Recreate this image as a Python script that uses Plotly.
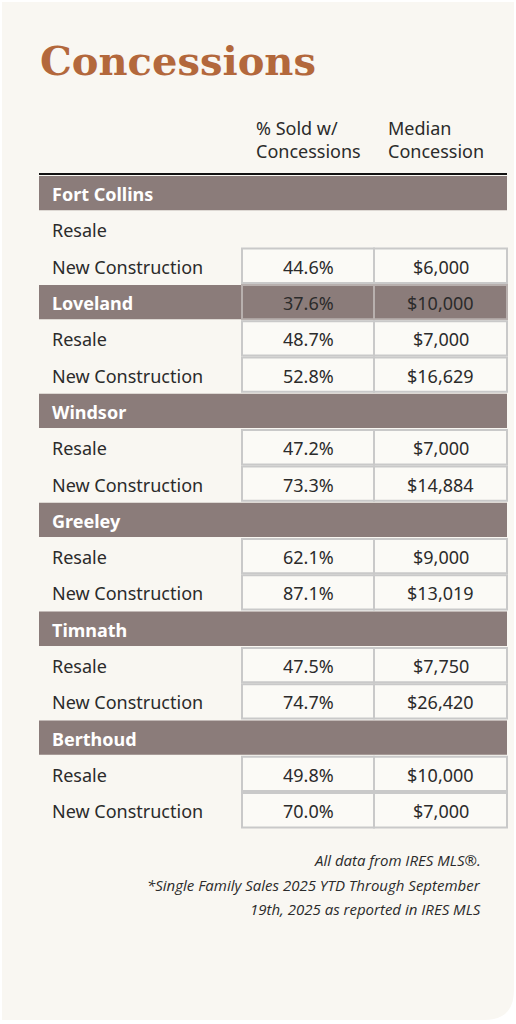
import plotly.graph_objects as go

cities = ["Fort Collins", "Loveland", "Windsor", "Greeley", "Timnath", "Berthoud"]
row_types = ["Resale", "New Construction"]
pct_resale = [None, "48.7%", "47.2%", "62.1%", "47.5%", "49.8%"]
pct_new = ["44.6%", "52.8%", "73.3%", "87.1%", "74.7%", "70.0%"]
med_resale = [None, "$7,000", "$7,000", "$9,000", "$7,750", "$10,000"]
med_new = ["$6,000", "$16,629", "$14,884", "$13,019", "$26,420", "$7,000"]
# values shown on the city header row (only Loveland)
pct_city = [None, "37.6%", None, None, None, None]
med_city = [None, "$10,000", None, None, None, None]
col_headers = ["% Sold w/<br>Concessions", "Median<br>Concession"]
title = "Concessions"
notes = ["All data from IRES MLS®.", "*Single Family Sales 2025 YTD Through September", "19th, 2025 as reported in IRES MLS"]

W, H = 516, 1024
BROWN = "#8b7c7a"; CARD = "#f9f7f2"; TXT = "#2b2b2b"; GRID = "#c9c9c9"
FONT = "Noto Sans"
X0, X1 = 39, 507
C1, C2, C3 = 242, 374, 507
Y0, RH = 175, 36.3

shapes, ann = [], []
r = 30
shapes.append(dict(type="path", layer="below", fillcolor=CARD, line=dict(width=0),
    path=f"M 2 2 L 514 2 L 514 {1020-r} Q 514 1020 {514-r} 1020 L 2 1020 Z"))
ann.append(dict(x=38, y=60, text=f"<b>{title}</b>", showarrow=False, xanchor="left", yanchor="middle",
    font=dict(family="DejaVu Serif", size=40, color="#b3683c")))
for cx, t in zip([254, 386], col_headers):
    ann.append(dict(x=cx, y=139, text=t, showarrow=False, xanchor="left", yanchor="middle", align="left",
        font=dict(family=FONT, size=18, color=TXT)))
shapes.append(dict(type="line", x0=X0, x1=X1, y0=Y0-1, y1=Y0-1, line=dict(color="#111", width=2)))

i = 0
for k, city in enumerate(cities):
    rows = [(city, pct_city[k], med_city[k], True),
            (row_types[0], pct_resale[k], med_resale[k], False),
            (row_types[1], pct_new[k], med_new[k], False)]
    for label, p, m, hdr in rows:
        y0 = Y0 + i * RH; y1 = y0 + RH; ym = (y0 + y1) / 2 + 1
        if hdr:
            shapes.append(dict(type="rect", x0=X0, x1=X1, y0=y0 + 1, y1=y1 - 1, fillcolor=BROWN, line=dict(width=0)))
        if p is not None:
            fill = BROWN if hdr else "#fbfaf6"
            lc = "#b8b0ae" if hdr else GRID
            for a, b in [(C1, C2), (C2, C3)]:
                shapes.append(dict(type="rect", x0=a, x1=b, y0=y0 + 1, y1=y1 - 1, fillcolor=fill, line=dict(color=lc, width=2)))
            for a, b, v in [(C1, C2, p), (C2, C3, m)]:
                ann.append(dict(x=(a + b) / 2, y=ym, text=v, showarrow=False, xanchor="center", yanchor="middle",
                    font=dict(family=FONT, size=18, color=TXT)))
        ann.append(dict(x=50, y=ym, text=f"<b>{label}</b>" if hdr else label, showarrow=False, xanchor="left", yanchor="middle",
            font=dict(family=FONT, size=18, color="white" if hdr else TXT)))
        i += 1

for j, t in enumerate(notes):
    ann.append(dict(x=483, y=860 + j * 24.5, text=f"<i>{t}</i>", showarrow=False, xanchor="right", yanchor="middle",
        font=dict(family="Open Sans", size=15, color=TXT)))

fig = go.Figure()
fig.update_layout(width=W, height=H, margin=dict(l=0, r=0, t=0, b=0), paper_bgcolor="white", plot_bgcolor="white",
    xaxis=dict(range=[0, W], visible=False, fixedrange=True),
    yaxis=dict(range=[H, 0], visible=False, fixedrange=True),
    shapes=shapes, annotations=ann, showlegend=False)
fig.write_html("out.html", config={"displayModeBar": False},
    post_script="document.body.style.margin='0';document.body.style.overflow='hidden';")
